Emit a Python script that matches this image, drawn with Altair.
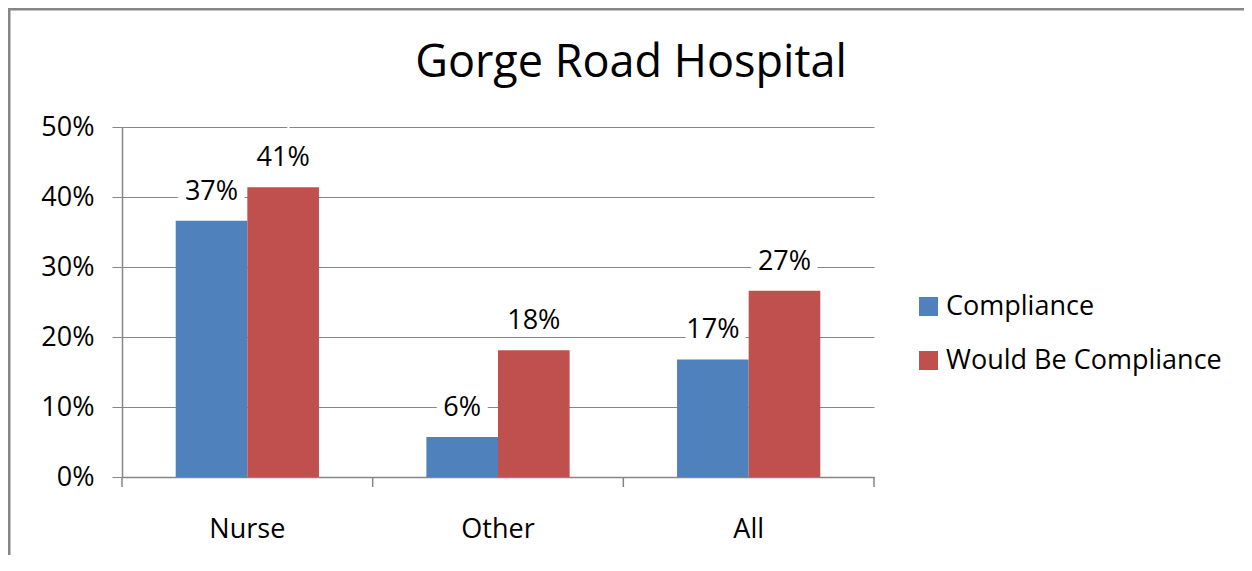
import altair as alt
import pandas as pd

categories = ["Nurse", "Other", "All"]
series_names = ["Compliance", "Would Be Compliance"]
compliance = [0.366, 0.057, 0.168]
would_be = [0.414, 0.181, 0.266]
y_ticks = [0, 0.1, 0.2, 0.3, 0.4, 0.5]
title_text = "Gorge Road Hospital"

rows = []
for i, c in enumerate(categories):
    rows.append({"category": c, "series": series_names[0], "value": compliance[i]})
    rows.append({"category": c, "series": series_names[1], "value": would_be[i]})
df = pd.DataFrame(rows)

FONT = "Open Sans"
GRAY = "#868686"
COLORS = ["#4F81BD", "#C0504D"]

x_enc = alt.X("category:N", sort=categories, title=None,
              scale=alt.Scale(paddingInner=0, paddingOuter=0),
              axis=alt.Axis(labelAngle=0, ticks=False, tickSize=0, labelPadding=39,
                            labelFontSize=27, labelFont=FONT, labelColor="black",
                            domainColor=GRAY, domainWidth=1.5, grid=False))
xoff = alt.XOffset("series:N", sort=series_names,
                   scale=alt.Scale(paddingOuter=0.75, paddingInner=0))
y_enc = alt.Y("value:Q", title=None,
              scale=alt.Scale(domain=[0, 0.5], nice=False),
              axis=alt.Axis(values=y_ticks, format=".0%", labelFontSize=27, labelFont=FONT,
                            labelColor="black", tickSize=10, tickColor=GRAY, labelPadding=18,
                            domainColor=GRAY, domainWidth=1.5, gridColor=GRAY, gridWidth=1.2,
                            grid=True))

base = alt.Chart(df)

bars = base.mark_bar().encode(
    x=x_enc, xOffset=xoff, y=y_enc,
    color=alt.Color("series:N", sort=series_names,
                    scale=alt.Scale(domain=series_names, range=COLORS),
                    legend=alt.Legend(title=None, orient="none", legendX=793, legendY=166,
                                      symbolType="square", symbolSize=361, symbolStrokeWidth=0,
                                      labelFontSize=27, labelFont=FONT, labelColor="black",
                                      rowPadding=26, labelOffset=4, padding=0,
                                      labelLimit=400)),
)

halo = base.mark_text(fontSize=27, font=FONT, dy=-29, baseline="middle",
                      color="white", stroke="white", strokeWidth=16).encode(
    x=alt.X("category:N", sort=categories), xOffset=xoff, y="value:Q",
    text=alt.Text("value:Q", format=".0%"),
)
labels = base.mark_text(fontSize=27, font=FONT, dy=-29, baseline="middle", color="black").encode(
    x=alt.X("category:N", sort=categories), xOffset=xoff, y="value:Q",
    text=alt.Text("value:Q", format=".0%"),
)

cat_df = pd.DataFrame({"category": categories})
ticks_start = alt.Chart(cat_df).mark_rule(color=GRAY, strokeWidth=1.5).encode(
    x=alt.X("category:N", sort=categories, bandPosition=0),
    y=alt.value(350), y2=alt.value(360),
)
ticks_end = alt.Chart(cat_df).transform_filter(
    alt.datum.category == categories[-1]
).mark_rule(color=GRAY, strokeWidth=1.5).encode(
    x=alt.X("category:N", sort=categories, bandPosition=1),
    y=alt.value(350), y2=alt.value(360),
)

title = alt.Chart(pd.DataFrame({"t": [title_text]})).mark_text(
    fontSize=45, font=FONT, color="black", align="center", baseline="alphabetic"
).encode(x=alt.value(509), y=alt.value(-50), text="t:N")

frame_df = pd.DataFrame({"f": [0]})
frame_left = alt.Chart(frame_df).mark_rule(color=GRAY, strokeWidth=3).encode(
    x=alt.value(-113), y=alt.value(-119), y2=alt.value(440))
frame_top = alt.Chart(frame_df).mark_rule(color=GRAY, strokeWidth=3).encode(
    x=alt.value(-114), x2=alt.value(1122), y=alt.value(-118))

chart = alt.layer(bars, ticks_start, ticks_end, halo, labels, title, frame_left, frame_top).properties(
    width=752, height=350,
    padding={"left": 114, "top": 119, "right": 370, "bottom": 78},
    autosize=alt.AutoSizeParams(type="none"),
    background="white",
).configure_view(stroke=None)

chart.save("out.html", embed_options={"renderer": "svg", "actions": False})
